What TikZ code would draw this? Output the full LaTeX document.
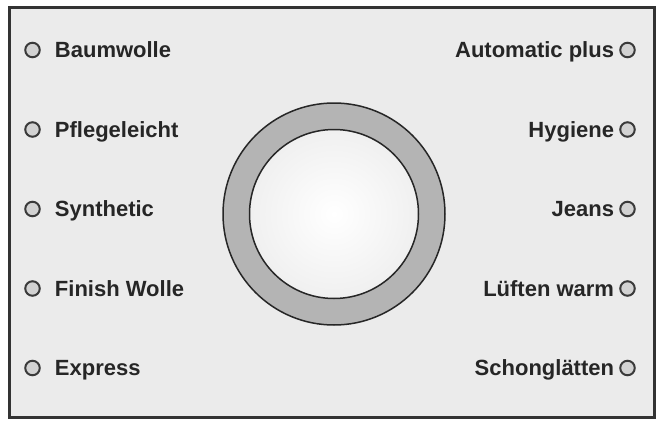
\documentclass[tikz,border=0pt]{standalone}
\usepackage{fontspec}
\setmainfont{Liberation Sans}
\usetikzlibrary{positioning}
\definecolor{panelfill}{HTML}{EBEBEB}
\definecolor{frameline}{HTML}{333333}
\definecolor{ringfill}{HTML}{B4B4B4}
\definecolor{ledfill}{HTML}{D2D2D2}
\definecolor{ledline}{HTML}{3A3A3A}
\begin{document}
\begin{tikzpicture}[x=1pt, y=-1pt, every node/.style={inner sep=0pt, font=\fontsize{22}{26}\selectfont\bfseries, text=black!85, text height=15.6pt, text depth=0pt}]
\tikzset{led/.style={circle, draw=ledline, fill=ledfill, line width=2pt, minimum size=14.5pt, inner sep=0pt, text height=, text depth=}}
\useasboundingbox (0,0) rectangle (659,426);
\draw[line width=3pt, draw=frameline, fill=panelfill] (9,7) rectangle (654,417);
% dial
\node[circle, draw=black!85, fill=ringfill, line width=1.5pt, minimum size=222pt, text height=, text depth=] (dial) at (334,214) {};
\node[circle, draw=black!85, inner color=white, outer color=black!6, line width=1.5pt, minimum size=169pt, text height=, text depth=] (knob) at (dial) {};
% left column
\node[led] (baum) at (32.5,50) {};
\node[right=14pt of baum] (baumtext) {Baumwolle};
\node[led] (pflege) at (32.5,129.5) {};
\node[right=14pt of pflege] (pflegetext) {Pflegeleicht};
\node[led] (synth) at (32.5,209) {};
\node[right=14pt of synth] (synthtext) {Synthetic};
\node[led] (wolle) at (32.5,288.5) {};
\node[right=14pt of wolle] (wolletext) {Finish Wolle};
\node[led] (express) at (32.5,368) {};
\node[right=14pt of express] (expresstext) {Express};
% right column
\node[led] (auto) at (627.5,50) {};
\node[left=5pt of auto] (autotext) {Automatic plus};
\node[led] (hyg) at (627.5,129.5) {};
\node[left=5pt of hyg] (hygtext) {Hygiene};
\node[led] (jeans) at (627.5,209) {};
\node[left=5pt of jeans] (jeanstext) {Jeans};
\node[led] (luft) at (627.5,288.5) {};
\node[left=5pt of luft] (lufttext) {Lüften warm};
\node[led] (schon) at (627.5,368) {};
\node[left=5pt of schon] (schontext) {Schonglätten};
\end{tikzpicture}
\end{document}
